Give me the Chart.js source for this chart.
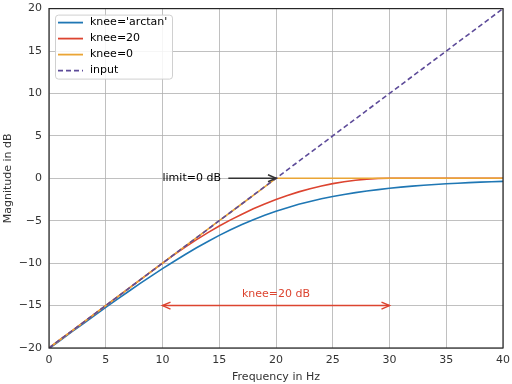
<!DOCTYPE html>
<html>
<head>
<meta charset="utf-8">
<script src="https://cdn.jsdelivr.net/npm/chart.js@4.4.0/dist/chart.umd.min.js"></script>
<style>
    html, body { margin: 0; padding: 0; background: #fff; overflow: hidden; }
    #page { position: relative; width: 512px; height: 384px; overflow: hidden; }
    #wrap { position: absolute; left: 0; top: -5px; width: 516px; height: 389px; }
</style>
</head>
<body>
<div id="page"><div id="wrap"><canvas id="chart-knee"></canvas></div></div>
<script>
// frequency in Hz
var freq = [0, 1, 2, 3, 4, 5, 6, 7, 8, 9, 10, 11, 12, 13, 14, 15, 16, 17, 18, 19, 20,
    21, 22, 23, 24, 25, 26, 27, 28, 29, 30, 31, 32, 33, 34, 35, 36, 37, 38, 39, 40];

// magnitude in dB
var arctanDb = [-20.07, -19.09, -18.11, -17.14, -16.18, -15.22, -14.27, -13.34, -12.42, -11.52, -10.65,
    -9.80, -8.98, -8.19, -7.44, -6.73, -6.07, -5.45, -4.88, -4.36, -3.89,
    -3.46, -3.07, -2.73, -2.42, -2.15, -1.90, -1.69, -1.49, -1.33, -1.17,
    -1.04, -0.92, -0.82, -0.73, -0.65, -0.58, -0.51, -0.45, -0.40, -0.36];
var knee20Db = [-20, -19, -18, -17, -16, -15, -14, -13, -12, -11, -10,
    -9.03, -8.1, -7.23, -6.4, -5.63, -4.9, -4.23, -3.6, -3.03, -2.5,
    -2.03, -1.6, -1.23, -0.9, -0.63, -0.4, -0.23, -0.1, -0.03, 0,
    0, 0, 0, 0, 0, 0, 0, 0, 0, 0];
var knee0Db = [-20, -19, -18, -17, -16, -15, -14, -13, -12, -11, -10,
    -9, -8, -7, -6, -5, -4, -3, -2, -1, 0,
    0, 0, 0, 0, 0, 0, 0, 0, 0, 0,
    0, 0, 0, 0, 0, 0, 0, 0, 0, 0];
var inputDb = [-20, -19, -18, -17, -16, -15, -14, -13, -12, -11, -10,
    -9, -8, -7, -6, -5, -4, -3, -2, -1, 0,
    1, 2, 3, 4, 5, 6, 7, 8, 9, 10,
    11, 12, 13, 14, 15, 16, 17, 18, 19, 20];

var xTicks = [0, 5, 10, 15, 20, 25, 30, 35, 40];
var yTicks = [-20, -15, -10, -5, 0, 5, 10, 15, 20];

var FONT = 'DejaVu Sans';
var C_BLUE = '#1f77b4', C_RED = '#dc4430', C_ORANGE = '#eaa535', C_PURPLE = '#5d4b99';

function points(ys) {
    return freq.map(function(x, i) { return { x: x, y: ys[i] }; });
}

// frame, inner legend and the two annotations
var extras = {
    id: 'extras',
    afterDatasetsDraw: function(chart) {
        var ctx = chart.ctx, a = chart.chartArea;
        var xs = chart.scales.x, ys = chart.scales.y;
        ctx.save();

        // frame
        ctx.strokeStyle = '#262626';
        ctx.lineWidth = 1.2;
        ctx.strokeRect(a.left, a.top, a.right - a.left, a.bottom - a.top);

        ctx.font = '11px "' + FONT + '"';
        ctx.textBaseline = 'middle';

        // limit annotation
        var ly = ys.getPixelForValue(0);
        ctx.fillStyle = '#000';
        ctx.textAlign = 'left';
        ctx.fillText('limit=0 dB', xs.getPixelForValue(10), ly);
        arrow(ctx, xs.getPixelForValue(15.8), ly, xs.getPixelForValue(20), ly, '#333', false);

        // knee annotation
        var ky = ys.getPixelForValue(-15);
        ctx.fillStyle = C_RED;
        ctx.textAlign = 'center';
        ctx.fillText('knee=20 dB', xs.getPixelForValue(20), ys.getPixelForValue(-13.6));
        arrow(ctx, xs.getPixelForValue(10), ky, xs.getPixelForValue(30), ky, C_RED, true);

        // legend
        var bx = a.left + 6, by = a.top + 6, bw = 117, bh = 64;
        ctx.fillStyle = 'rgba(255,255,255,0.85)';
        ctx.strokeStyle = '#d0d0d0';
        ctx.lineWidth = 1;
        ctx.beginPath();
        ctx.roundRect(bx + 0.5, by + 0.5, bw, bh, 3);
        ctx.fill();
        ctx.stroke();
        chart.data.datasets.forEach(function(ds, i) {
            var y = by + 8 + i * 16;
            ctx.strokeStyle = ds.borderColor;
            ctx.lineWidth = 1.8;
            ctx.setLineDash(ds.borderDash || []);
            ctx.beginPath();
            ctx.moveTo(bx + 3, y);
            ctx.lineTo(bx + 28, y);
            ctx.stroke();
            ctx.setLineDash([]);
            ctx.fillStyle = '#000';
            ctx.textAlign = 'left';
            ctx.fillText(ds.label, bx + 35, y);
        });
        ctx.restore();
    }
};

function arrow(ctx, x1, y1, x2, y2, color, both) {
    ctx.strokeStyle = color;
    ctx.fillStyle = color;
    ctx.lineWidth = 1.5;
    ctx.beginPath();
    ctx.moveTo(x1, y1);
    ctx.lineTo(x2, y2);
    ctx.stroke();
    head(ctx, x2, y2, 1);
    if (both) head(ctx, x1, y1, -1);
}

function head(ctx, x, y, dir) {
    ctx.beginPath();
    ctx.moveTo(x - dir * 8, y - 3.5);
    ctx.lineTo(x, y);
    ctx.lineTo(x - dir * 8, y + 3.5);
    ctx.stroke();
}

new Chart(document.getElementById('chart-knee'), {
    type: 'line',
    data: {
        datasets: [{
            label: "knee='arctan'",
            data: points(arctanDb),
            borderColor: C_BLUE,
            order: 4
        }, {
            label: 'knee=20',
            data: points(knee20Db),
            borderColor: C_RED,
            order: 3
        }, {
            label: 'knee=0',
            data: points(knee0Db),
            borderColor: C_ORANGE,
            order: 2
        }, {
            label: 'input',
            data: points(inputDb),
            borderColor: C_PURPLE,
            borderDash: [5, 3],
            order: 1
        }]
    },
    options: {
        responsive: true,
        maintainAspectRatio: false,
        animation: false,
        elements: {
            point: { radius: 0 },
            line: { borderWidth: 1.6, tension: 0, fill: false }
        },
        layout: { padding: 0 },
        plugins: {
            legend: { display: false },
            tooltip: { enabled: false }
        },
        scales: {
            x: {
                type: 'linear',
                min: 0,
                max: 40,
                afterBuildTicks: function(s) { s.ticks = xTicks.map(function(v) { return { value: v }; }); },
                afterFit: function(s) { s.height = 36; },
                grid: { color: '#b0b0b0', lineWidth: 0.8, drawTicks: false },
                border: { display: false },
                ticks: {
                    padding: 6,
                    color: '#333',
                    font: { family: FONT, size: 11 },
                    maxRotation: 0
                },
                title: {
                    display: true,
                    text: 'Frequency in Hz',
                    color: '#333',
                    font: { family: FONT, size: 11 },
                    padding: { top: 1, bottom: 0 }
                }
            },
            y: {
                type: 'linear',
                min: -20,
                max: 20,
                afterBuildTicks: function(s) { s.ticks = yTicks.map(function(v) { return { value: v }; }); },
                afterFit: function(s) { s.width = 49; },
                grid: { color: '#b0b0b0', lineWidth: 0.8, drawTicks: false },
                border: { display: false },
                ticks: {
                    padding: 7,
                    color: '#333',
                    font: { family: FONT, size: 11 },
                    callback: function(v) { return String(v).replace('-', '\u2212'); }
                },
                title: {
                    display: true,
                    text: 'Magnitude in dB',
                    color: '#333',
                    font: { family: FONT, size: 11 },
                    padding: { top: 2, bottom: 0 }
                }
            }
        }
    },
    plugins: [extras]
});
</script>
</body>
</html>
